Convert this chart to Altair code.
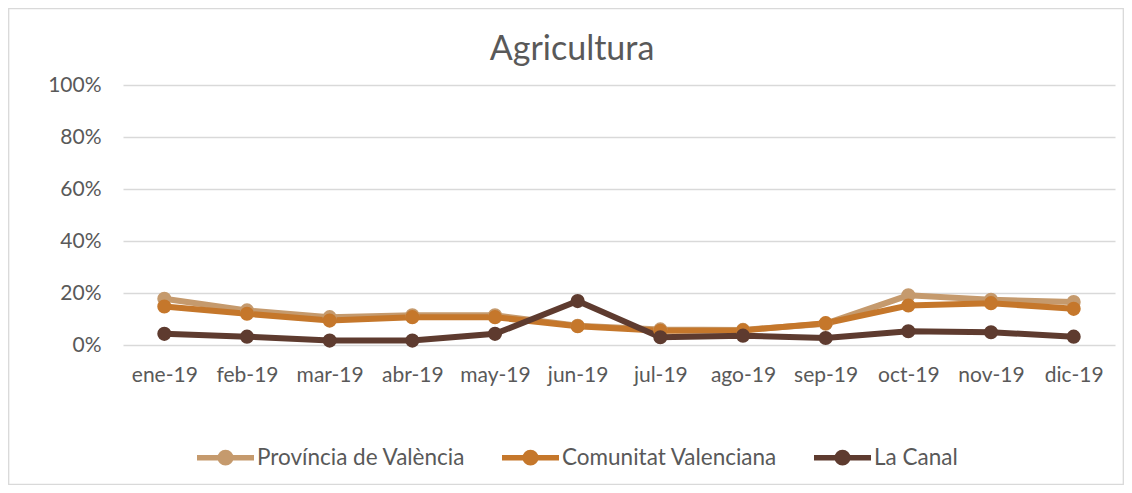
import altair as alt
import pandas as pd

months = ["ene-19", "feb-19", "mar-19", "abr-19", "may-19", "jun-19",
          "jul-19", "ago-19", "sep-19", "oct-19", "nov-19", "dic-19"]
series = ["Província de València", "Comunitat Valenciana", "La Canal"]
prov = [17.8, 13.3, 10.7, 11.4, 11.4, 7.4, 6.0, 5.8, 8.2, 19.1, 17.4, 16.5]
com = [14.8, 12.0, 9.4, 10.7, 10.7, 7.2, 5.5, 5.6, 8.4, 15.2, 16.1, 13.9]
canal = [4.3, 3.2, 1.7, 1.7, 4.3, 16.9, 3.0, 3.6, 2.7, 5.3, 4.9, 3.2]
colors = ["#C59A6D", "#C5772B", "#5E3B2F"]

rows = []
for name, vals in zip(series, [prov, com, canal]):
    for m, v in zip(months, vals):
        rows.append({"mes": m, "serie": name, "valor": v / 100.0})
df = pd.DataFrame(rows)

TXT = "#595959"
FONT = "Lato"

color = alt.Color(
    "serie:N",
    scale=alt.Scale(domain=series, range=colors),
    legend=alt.Legend(
        title=None,
        orient="none",
        legendX=71,
        legendY=341,
        direction="horizontal",
        symbolType="M-1,0L1,0M0.184,0A0.184,0.184,0,1,1,-0.184,0A0.184,0.184,0,1,1,0.184,0",
        symbolSize=3249,
        symbolStrokeWidth=5.5,
        labelFontSize=22.5,
        labelFont=FONT,
        labelColor=TXT,
        labelOffset=0,
        labelLimit=0,
        columnPadding=25,
        padding=0,
    ),
)

x = alt.X(
    "mes:N",
    sort=months,
    title=None,
    scale=alt.Scale(paddingOuter=0.5),
    axis=alt.Axis(labelAngle=0, ticks=False, domain=False, labelFontSize=21,
                  labelFont=FONT, labelColor=TXT, labelPadding=19, grid=False),
)
y = alt.Y(
    "valor:Q",
    title=None,
    scale=alt.Scale(domain=[0, 1]),
    axis=alt.Axis(format=".0%", values=[0, 0.2, 0.4, 0.6, 0.8, 1.0], ticks=False,
                  domain=False, labelFontSize=21, labelFont=FONT, labelColor=TXT,
                  labelPadding=22, gridColor="#D9D9D9", gridWidth=1.3),
)

base = alt.Chart(df)
lines = base.mark_line(strokeWidth=6).encode(x=x, y=y, color=color)
points = base.mark_circle(size=200, opacity=1).encode(x=x, y=y, color=color)

frame = alt.Chart(pd.DataFrame({"a": [0]})).mark_rect(
    fill="#FFFFFF", fillOpacity=0, stroke="#D9D9D9", strokeWidth=1.3
).encode(x=alt.value(-114.3), x2=alt.value(1000.3), y=alt.value(-76.3), y2=alt.value(399.3))

chart = alt.layer(frame, lines, points).properties(
    width=992,
    height=260,
    padding={"left": 115, "top": 77, "right": 9, "bottom": 140},
    autosize=alt.AutoSizeParams(type="none"),
    title=alt.TitleParams("Agricultura", fontSize=34, font=FONT, color=TXT,
                          fontWeight="normal", anchor="middle", dx=-47, offset=-59,
                          frame="group"),
).configure_view(stroke=None)

chart.save("out.html", embed_options={"renderer": "svg", "actions": False})
